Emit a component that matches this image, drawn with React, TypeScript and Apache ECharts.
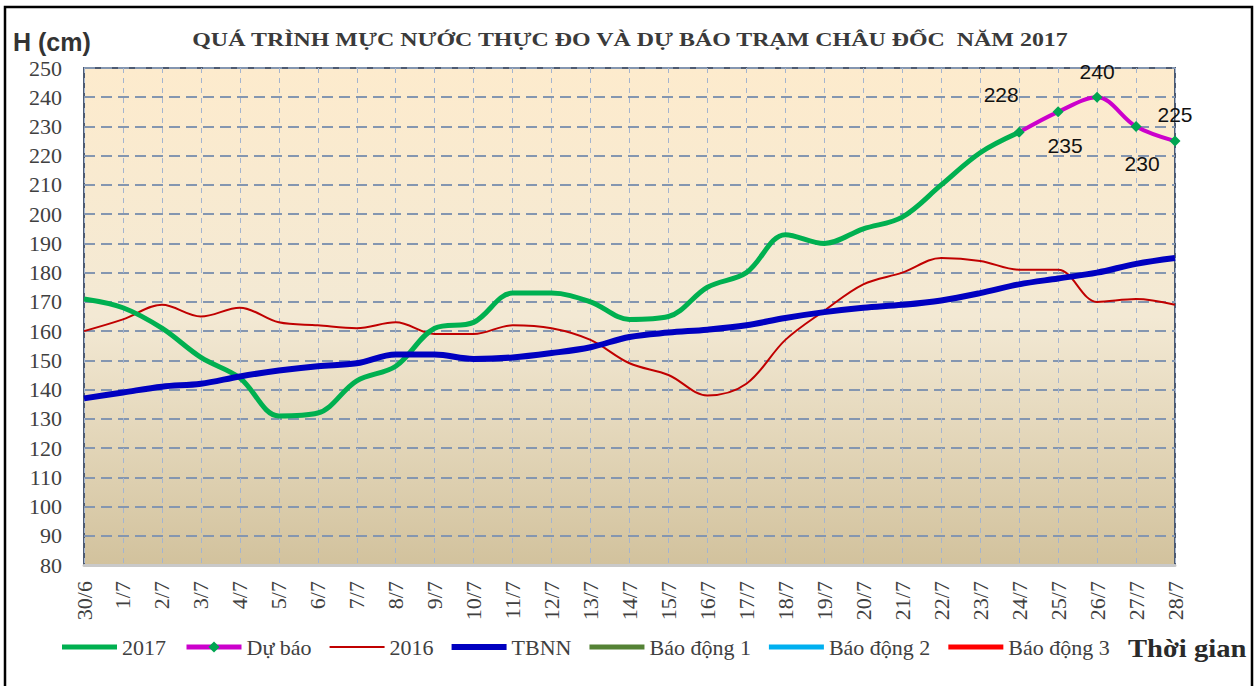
import React, { useEffect, useRef } from "react";
import * as echarts from "echarts";

const categories = [
  "30/6", "1/7", "2/7", "3/7", "4/7", "5/7", "6/7", "7/7", "8/7", "9/7",
  "10/7", "11/7", "12/7", "13/7", "14/7", "15/7", "16/7", "17/7", "18/7", "19/7",
  "20/7", "21/7", "22/7", "23/7", "24/7", "25/7", "26/7", "27/7", "28/7",
];

const values2017 = [171, 168, 161, 151, 144, 131, 132, 143, 148, 161, 163, 173, 173, 170, 164, 165, 175, 180, 193, 190, 195, 199, 210, 221, 228];

const forecast = [
  null, null, null, null, null, null, null, null, null, null, null, null,
  null, null, null, null, null, null, null, null, null, null, null, null,
  228, 235, 240, 230, 225,
];

const values2016 = [160, 164, 169, 165, 168, 163, 162, 161, 163, 159, 159, 162, 161, 157, 149, 145, 138, 142, 157, 167, 176, 180, 185, 184, 181, 181, 170, 171, 169];

const tbnn = [137, 139, 141, 142, 144.5, 146.5, 148, 149, 152, 152, 150.5, 151, 152.5, 154.5, 158, 159.5, 160.5, 162, 164.5, 166.5, 168, 169, 170.5, 173, 176, 178, 180, 183, 185];

const alarm1: number[] = [];
const alarm2: number[] = [];
const alarm3: number[] = [];

const forecastLabels = [
  { position: "top", offset: [-18, -17] },
  { position: "bottom", offset: [7, 13] },
  { position: "top", offset: [0, -5] },
  { position: "bottom", offset: [6, 16] },
  { position: "top", offset: [0, -6] },
];

const barIcon = (h: number) => `path://M0,0H55V${h}H0Z`;

export default function App() {
  const ref = useRef<HTMLDivElement>(null);
  useEffect(() => {
    if (!ref.current) return;
    const chart = echarts.init(ref.current, undefined, { renderer: "svg" });
    const serif = "'Liberation Serif', 'Times New Roman', serif";
    const sans = "'Liberation Sans', Arial, sans-serif";
    let fIdx = 0;
    const forecastData = forecast.map((v) => {
      if (v === null) return null;
      const l = forecastLabels[fIdx++];
      return {
        value: v,
        label: {
          show: true,
          position: l.position,
          offset: l.offset,
          fontFamily: sans,
          fontSize: 21,
          color: "#111",
          formatter: "{c}",
        },
      };
    });
    chart.setOption({
      animation: false,
      graphic: [
        {
          type: "rect",
          shape: { x: 5, y: 7, width: 1247, height: 720 },
          style: { fill: "none", stroke: "#000", lineWidth: 2.5 },
          silent: true,
        },
        {
          type: "text",
          x: 630,
          y: 40,
          scaleX: 1.33,
          style: {
            text: "QUÁ TRÌNH MỰC NƯỚC THỰC ĐO VÀ DỰ BÁO TRẠM CHÂU ĐỐC  NĂM 2017",
            textAlign: "center",
            textVerticalAlign: "middle",
            fontFamily: serif,
            fontWeight: "bold",
            fontSize: 18,
            fill: "#3a3a3a",
          },
        },
        {
          type: "text",
          x: 13,
          y: 42,
          style: {
            text: "H (cm)",
            textVerticalAlign: "middle",
            fontFamily: sans,
            fontWeight: "bold",
            fontSize: 25,
            fill: "#333",
          },
        },
        {
          type: "text",
          x: 1128,
          y: 648,
          scaleX: 1.1,
          style: {
            text: "Thời gian",
            textVerticalAlign: "middle",
            fontFamily: serif,
            fontWeight: "bold",
            fontSize: 26,
            fill: "#2a2a2a",
          },
        },
      ],
      legend: {
        left: 57,
        top: 631,
        itemWidth: 55,
        itemHeight: 14,
        itemGap: 18,
        textStyle: { fontFamily: serif, fontSize: 22, color: "#404040" },
        data: [
          { name: "2017", icon: barIcon(5) },
          { name: "Dự báo", lineStyle: { width: 5 } },
          { name: "2016", icon: barIcon(2) },
          { name: "TBNN", icon: barIcon(6) },
          { name: "Báo động 1", icon: barIcon(5) },
          { name: "Báo động 2", icon: barIcon(5) },
          { name: "Báo động 3", icon: barIcon(5) },
        ],
      },
      grid: {
        left: 84,
        right: 84,
        top: 68,
        bottom: 121,
        show: true,
        borderColor: "#4d5b73",
        borderWidth: 2,
        backgroundColor: new echarts.graphic.LinearGradient(0, 0, 0, 1, [
          { offset: 0, color: "#fdebcd" },
          { offset: 0.5, color: "#f3e9d4" },
          { offset: 1, color: "#d2c29d" },
        ]),
      },
      xAxis: {
        type: "category",
        data: categories,
        boundaryGap: false,
        axisLine: { show: true, lineStyle: { color: "#c9c9c9", width: 3 } },
        axisTick: { show: false },
        axisLabel: {
          interval: 0,
          rotate: 90,
          margin: 16,
          fontFamily: serif,
          fontSize: 22,
          color: "#404040",
        },
        splitLine: {
          show: true,
          interval: 0,
          lineStyle: { color: "#a3b4cf", width: 1, type: [5, 5] },
        },
      },
      yAxis: {
        type: "value",
        min: 80,
        max: 250,
        interval: 10,
        axisLine: { show: false },
        axisTick: { show: false },
        axisLabel: { margin: 22, fontFamily: serif, fontSize: 22, color: "#404040" },
        splitLine: { show: true, lineStyle: { color: "#8496b0", width: 2, type: [11, 6] } },
      },
      series: [
        {
          name: "2017",
          type: "line",
          data: values2017,
          smooth: 0.35,
          symbol: "none",
          lineStyle: { color: "#00b050", width: 5 },
          itemStyle: { color: "#00b050" },
          z: 3,
        },
        {
          name: "Dự báo",
          type: "line",
          data: forecastData,
          smooth: 0.35,
          symbol: "diamond",
          symbolSize: 11,
          showSymbol: true,
          connectNulls: false,
          lineStyle: { color: "#cc00cc", width: 4 },
          itemStyle: { color: "#00a651" },
          z: 5,
        },
        {
          name: "2016",
          type: "line",
          data: values2016,
          smooth: 0.35,
          symbol: "none",
          lineStyle: { color: "#c00000", width: 2 },
          itemStyle: { color: "#c00000" },
          z: 2,
        },
        {
          name: "TBNN",
          type: "line",
          data: tbnn,
          smooth: 0.35,
          symbol: "none",
          lineStyle: { color: "#0000c0", width: 6 },
          itemStyle: { color: "#0000c0" },
          z: 4,
        },
        {
          name: "Báo động 1",
          type: "line",
          data: alarm1,
          symbol: "none",
          lineStyle: { color: "#548235", width: 5 },
          itemStyle: { color: "#548235" },
        },
        {
          name: "Báo động 2",
          type: "line",
          data: alarm2,
          symbol: "none",
          lineStyle: { color: "#00b0f0", width: 5 },
          itemStyle: { color: "#00b0f0" },
        },
        {
          name: "Báo động 3",
          type: "line",
          data: alarm3,
          symbol: "none",
          lineStyle: { color: "#ff0000", width: 5 },
          itemStyle: { color: "#ff0000" },
        },
      ],
    });
    return () => chart.dispose();
  }, []);
  return (
    <div
      ref={ref}
      style={{ position: "absolute", left: 0, top: 0, width: 1259, height: 686, background: "#fff" }}
    />
  );
}
